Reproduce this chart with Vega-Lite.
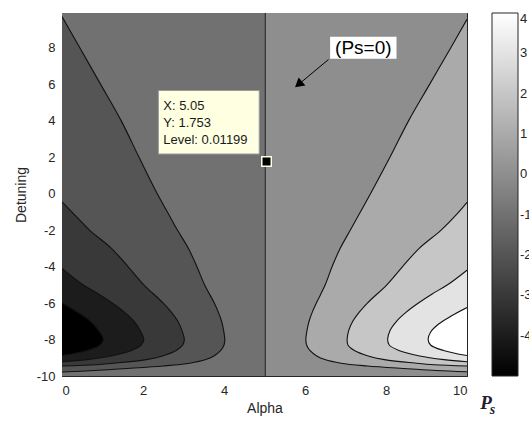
{
"$schema": "https://vega.github.io/schema/vega-lite/v6.json",
"width": 405, "height": 363,
"autosize": {"type": "none"},
"padding": {"left": 62, "top": 13, "right": 62, "bottom": 45},
"background": "white",
"config": {
  "font": "Liberation Sans",
  "view": {"stroke": null},
  "axis": {"grid": false, "domain": true, "domainColor": "#262626", "domainWidth": 1, "tickColor": "#262626", "tickSize": -5, "tickWidth": 1, "labelColor": "#262626", "labelFontSize": 13, "labelFont": "Liberation Sans", "titleColor": "#262626", "titleFontSize": 14, "titleFont": "Liberation Sans", "titleFontWeight": "normal", "zindex": 1},
  "legend": {"orient": "right", "offset": 24, "padding": 0, "gradientLength": 363, "gradientThickness": 26, "gradientStrokeColor": "#262626", "gradientStrokeWidth": 1, "labelFontSize": 13, "labelColor": "#262626", "labelFont": "Liberation Sans", "labelOffset": 4, "labelOverlap": false, "direction": "vertical"}
},
"datasets": {
  "bg": [{"a0": 0, "a1": 5.02, "d0": -10, "d1": 9.9, "lvl": -1}, {"a0": 5.02, "a1": 10, "d0": -10, "d1": 9.9, "lvl": 0}],
  "curves": [
    {"c":"m1","lvl":-2,"a":0,"d":-9.78},{"c":"m1","lvl":-2,"a":0.8,"d":-9.7},{"c":"m1","lvl":-2,"a":1.5,"d":-9.6},{"c":"m1","lvl":-2,"a":2.5,"d":-9.45},{"c":"m1","lvl":-2,"a":3.15,"d":-9.3},{"c":"m1","lvl":-2,"a":3.55,"d":-9.1},{"c":"m1","lvl":-2,"a":3.75,"d":-8.9},{"c":"m1","lvl":-2,"a":3.92,"d":-8.6},{"c":"m1","lvl":-2,"a":4.0,"d":-8.3},{"c":"m1","lvl":-2,"a":4.02,"d":-8.0},{"c":"m1","lvl":-2,"a":3.99,"d":-7.5},{"c":"m1","lvl":-2,"a":3.94,"d":-7.0},{"c":"m1","lvl":-2,"a":3.86,"d":-6.5},{"c":"m1","lvl":-2,"a":3.76,"d":-6.0},{"c":"m1","lvl":-2,"a":3.52,"d":-5.0},{"c":"m1","lvl":-2,"a":3.33,"d":-4.0},{"c":"m1","lvl":-2,"a":3.12,"d":-3.0},{"c":"m1","lvl":-2,"a":2.85,"d":-2.0},{"c":"m1","lvl":-2,"a":2.6,"d":-1.0},{"c":"m1","lvl":-2,"a":2.35,"d":0},{"c":"m1","lvl":-2,"a":1.9,"d":2},{"c":"m1","lvl":-2,"a":1.46,"d":4},{"c":"m1","lvl":-2,"a":0.95,"d":6},{"c":"m1","lvl":-2,"a":0.44,"d":8},{"c":"m1","lvl":-2,"a":0,"d":9.7},
    {"c":"m2","lvl":-3,"a":0,"d":-9.45},{"c":"m2","lvl":-3,"a":0.85,"d":-9.38},{"c":"m2","lvl":-3,"a":1.28,"d":-9.3},{"c":"m2","lvl":-3,"a":2.08,"d":-9.1},{"c":"m2","lvl":-3,"a":2.48,"d":-8.9},{"c":"m2","lvl":-3,"a":2.82,"d":-8.6},{"c":"m2","lvl":-3,"a":2.98,"d":-8.3},{"c":"m2","lvl":-3,"a":3.02,"d":-8.0},{"c":"m2","lvl":-3,"a":2.96,"d":-7.5},{"c":"m2","lvl":-3,"a":2.86,"d":-7.0},{"c":"m2","lvl":-3,"a":2.7,"d":-6.5},{"c":"m2","lvl":-3,"a":2.5,"d":-6.0},{"c":"m2","lvl":-3,"a":2.02,"d":-5.0},{"c":"m2","lvl":-3,"a":1.63,"d":-4.0},{"c":"m2","lvl":-3,"a":1.22,"d":-3.0},{"c":"m2","lvl":-3,"a":0.68,"d":-2.0},{"c":"m2","lvl":-3,"a":0.24,"d":-1.0},{"c":"m2","lvl":-3,"a":0,"d":-0.45},
    {"c":"m3","lvl":-4,"a":0,"d":-9.22},{"c":"m3","lvl":-4,"a":0.61,"d":-9.1},{"c":"m3","lvl":-4,"a":1.21,"d":-8.9},{"c":"m3","lvl":-4,"a":1.72,"d":-8.6},{"c":"m3","lvl":-4,"a":1.96,"d":-8.3},{"c":"m3","lvl":-4,"a":2.02,"d":-8.0},{"c":"m3","lvl":-4,"a":1.93,"d":-7.5},{"c":"m3","lvl":-4,"a":1.78,"d":-7.0},{"c":"m3","lvl":-4,"a":1.54,"d":-6.5},{"c":"m3","lvl":-4,"a":1.24,"d":-6.0},{"c":"m3","lvl":-4,"a":0.9,"d":-5.5},{"c":"m3","lvl":-4,"a":0.52,"d":-5.0},{"c":"m3","lvl":-4,"a":0,"d":-4.1},
    {"c":"m4","lvl":-5,"a":0,"d":-8.88},{"c":"m4","lvl":-5,"a":0.62,"d":-8.6},{"c":"m4","lvl":-5,"a":0.94,"d":-8.3},{"c":"m4","lvl":-5,"a":1.02,"d":-8.0},{"c":"m4","lvl":-5,"a":0.9,"d":-7.5},{"c":"m4","lvl":-5,"a":0.7,"d":-7.0},{"c":"m4","lvl":-5,"a":0.38,"d":-6.5},{"c":"m4","lvl":-5,"a":0,"d":-6.0},
    {"c":"p1","lvl":1,"a":10,"d":-9.77},{"c":"p1","lvl":1,"a":9.24,"d":-9.7},{"c":"p1","lvl":1,"a":8.54,"d":-9.6},{"c":"p1","lvl":1,"a":7.54,"d":-9.45},{"c":"p1","lvl":1,"a":6.89,"d":-9.3},{"c":"p1","lvl":1,"a":6.49,"d":-9.1},{"c":"p1","lvl":1,"a":6.29,"d":-8.9},{"c":"p1","lvl":1,"a":6.12,"d":-8.6},{"c":"p1","lvl":1,"a":6.04,"d":-8.3},{"c":"p1","lvl":1,"a":6.02,"d":-8.0},{"c":"p1","lvl":1,"a":6.05,"d":-7.5},{"c":"p1","lvl":1,"a":6.1,"d":-7.0},{"c":"p1","lvl":1,"a":6.18,"d":-6.5},{"c":"p1","lvl":1,"a":6.28,"d":-6.0},{"c":"p1","lvl":1,"a":6.5,"d":-5.0},{"c":"p1","lvl":1,"a":6.67,"d":-4.0},{"c":"p1","lvl":1,"a":6.87,"d":-3.0},{"c":"p1","lvl":1,"a":7.12,"d":-2.0},{"c":"p1","lvl":1,"a":7.37,"d":-1.0},{"c":"p1","lvl":1,"a":7.62,"d":0},{"c":"p1","lvl":1,"a":8.1,"d":2},{"c":"p1","lvl":1,"a":8.56,"d":4},{"c":"p1","lvl":1,"a":9.08,"d":6},{"c":"p1","lvl":1,"a":9.6,"d":8},{"c":"p1","lvl":1,"a":10,"d":9.55},
    {"c":"p2","lvl":2,"a":10,"d":-9.45},{"c":"p2","lvl":2,"a":9.19,"d":-9.38},{"c":"p2","lvl":2,"a":8.76,"d":-9.3},{"c":"p2","lvl":2,"a":7.96,"d":-9.1},{"c":"p2","lvl":2,"a":7.56,"d":-8.9},{"c":"p2","lvl":2,"a":7.22,"d":-8.6},{"c":"p2","lvl":2,"a":7.06,"d":-8.3},{"c":"p2","lvl":2,"a":7.04,"d":-8.0},{"c":"p2","lvl":2,"a":7.08,"d":-7.5},{"c":"p2","lvl":2,"a":7.18,"d":-7.0},{"c":"p2","lvl":2,"a":7.34,"d":-6.5},{"c":"p2","lvl":2,"a":7.54,"d":-6.0},{"c":"p2","lvl":2,"a":8.02,"d":-5.0},{"c":"p2","lvl":2,"a":8.41,"d":-4.0},{"c":"p2","lvl":2,"a":8.82,"d":-3.0},{"c":"p2","lvl":2,"a":9.36,"d":-2.0},{"c":"p2","lvl":2,"a":9.8,"d":-1.0},{"c":"p2","lvl":2,"a":10,"d":-0.48},
    {"c":"p3","lvl":3,"a":10,"d":-9.22},{"c":"p3","lvl":3,"a":9.43,"d":-9.1},{"c":"p3","lvl":3,"a":8.83,"d":-8.9},{"c":"p3","lvl":3,"a":8.32,"d":-8.6},{"c":"p3","lvl":3,"a":8.08,"d":-8.3},{"c":"p3","lvl":3,"a":8.04,"d":-8.0},{"c":"p3","lvl":3,"a":8.1,"d":-7.5},{"c":"p3","lvl":3,"a":8.26,"d":-7.0},{"c":"p3","lvl":3,"a":8.5,"d":-6.5},{"c":"p3","lvl":3,"a":8.8,"d":-6.0},{"c":"p3","lvl":3,"a":9.14,"d":-5.5},{"c":"p3","lvl":3,"a":9.52,"d":-5.0},{"c":"p3","lvl":3,"a":10,"d":-4.2},
    {"c":"p4","lvl":4,"a":10,"d":-8.88},{"c":"p4","lvl":4,"a":9.42,"d":-8.6},{"c":"p4","lvl":4,"a":9.1,"d":-8.3},{"c":"p4","lvl":4,"a":9.04,"d":-8.0},{"c":"p4","lvl":4,"a":9.1,"d":-7.6},{"c":"p4","lvl":4,"a":9.3,"d":-7.15},{"c":"p4","lvl":4,"a":9.62,"d":-6.7},{"c":"p4","lvl":4,"a":10,"d":-6.25}
  ],
  "arrow": [{"x1": 6.58, "y1": 7.35, "x2": 5.86, "y2": 6.02}],
  "arrowhead": [{"a": 5.84, "d": 5.99}],
  "psbox": [{"a0": 6.62, "a1": 8.26, "d0": 7.39, "d1": 8.6, "a": 7.44, "d": 7.98, "t": "(Ps=0)"}],
  "tipbox": [{"a0": 2.38, "a1": 4.87, "d0": 2.17, "d1": 5.65}],
  "tiptext": [{"a": 2.5, "d": 4.81, "t": "X: 5.05"}, {"a": 2.5, "d": 3.87, "t": "Y: 1.753"}, {"a": 2.5, "d": 2.94, "t": "Level: 0.01199"}],
  "marker": [{"a": 5.05, "d": 1.753}],
  "ps": [{"a": 10.47, "d": -11.5, "t": "P"}, {"a": 10.63, "d": -11.85, "t": "s"}]
},
"layer": [
  {"layer": [
    {"data": {"name": "bg"}, "mark": {"type": "rect"},
     "encoding": {
       "x": {"field": "a0", "type": "quantitative", "scale": {"domain": [0, 10], "nice": false, "zero": false}, "axis": {"orient": "bottom", "values": [0, 2, 4, 6, 8, 10], "title": "Alpha", "labelPadding": 13, "titlePadding": 4, "labelExpr": "'' + datum.value"}},
       "x2": {"field": "a1"},
       "y": {"field": "d0", "type": "quantitative", "scale": {"domain": [-10, 9.9], "nice": false, "zero": false}, "axis": {"orient": "left", "values": [-10, -8, -6, -4, -2, 0, 2, 4, 6, 8], "title": "Detuning", "labelPadding": 12, "titlePadding": 8, "labelExpr": "'' + datum.value"}},
       "y2": {"field": "d1"},
       "color": {"field": "lvl", "type": "quantitative", "scale": {"domain": [-5, 4], "range": ["#000000", "#ffffff"], "interpolate": "rgb"}, "legend": {"values": [-4, -3, -2, -1, 0, 1, 2, 3, 4], "title": null, "labelExpr": "'' + datum.value"}}
     }},
    {"data": {"name": "curves"}, "transform": [{"filter": "datum.c == 'm1'"}], "mark": {"type": "area", "orient": "horizontal", "clip": true, "interpolate": "catmull-rom"},
     "encoding": {"y": {"field": "d", "type": "quantitative"}, "x": {"field": "a", "type": "quantitative", "stack": null}, "x2": {"datum": 0}, "color": {"field": "lvl", "type": "quantitative", "scale": {"domain": [-5, 4], "range": ["#000000", "#ffffff"], "interpolate": "rgb"}}}},
    {"data": {"name": "curves"}, "transform": [{"filter": "datum.c == 'm2'"}], "mark": {"type": "area", "orient": "horizontal", "clip": true, "interpolate": "catmull-rom"},
     "encoding": {"y": {"field": "d", "type": "quantitative"}, "x": {"field": "a", "type": "quantitative", "stack": null}, "x2": {"datum": 0}, "color": {"field": "lvl", "type": "quantitative", "scale": {"domain": [-5, 4], "range": ["#000000", "#ffffff"], "interpolate": "rgb"}}}},
    {"data": {"name": "curves"}, "transform": [{"filter": "datum.c == 'm3'"}], "mark": {"type": "area", "orient": "horizontal", "clip": true, "interpolate": "catmull-rom"},
     "encoding": {"y": {"field": "d", "type": "quantitative"}, "x": {"field": "a", "type": "quantitative", "stack": null}, "x2": {"datum": 0}, "color": {"field": "lvl", "type": "quantitative", "scale": {"domain": [-5, 4], "range": ["#000000", "#ffffff"], "interpolate": "rgb"}}}},
    {"data": {"name": "curves"}, "transform": [{"filter": "datum.c == 'm4'"}], "mark": {"type": "area", "orient": "horizontal", "clip": true, "interpolate": "catmull-rom"},
     "encoding": {"y": {"field": "d", "type": "quantitative"}, "x": {"field": "a", "type": "quantitative", "stack": null}, "x2": {"datum": 0}, "color": {"field": "lvl", "type": "quantitative", "scale": {"domain": [-5, 4], "range": ["#000000", "#ffffff"], "interpolate": "rgb"}}}},
    {"data": {"name": "curves"}, "transform": [{"filter": "datum.c == 'p1'"}], "mark": {"type": "area", "orient": "horizontal", "clip": true, "interpolate": "catmull-rom"},
     "encoding": {"y": {"field": "d", "type": "quantitative"}, "x": {"field": "a", "type": "quantitative", "stack": null}, "x2": {"datum": 10}, "color": {"field": "lvl", "type": "quantitative", "scale": {"domain": [-5, 4], "range": ["#000000", "#ffffff"], "interpolate": "rgb"}}}},
    {"data": {"name": "curves"}, "transform": [{"filter": "datum.c == 'p2'"}], "mark": {"type": "area", "orient": "horizontal", "clip": true, "interpolate": "catmull-rom"},
     "encoding": {"y": {"field": "d", "type": "quantitative"}, "x": {"field": "a", "type": "quantitative", "stack": null}, "x2": {"datum": 10}, "color": {"field": "lvl", "type": "quantitative", "scale": {"domain": [-5, 4], "range": ["#000000", "#ffffff"], "interpolate": "rgb"}}}},
    {"data": {"name": "curves"}, "transform": [{"filter": "datum.c == 'p3'"}], "mark": {"type": "area", "orient": "horizontal", "clip": true, "interpolate": "catmull-rom"},
     "encoding": {"y": {"field": "d", "type": "quantitative"}, "x": {"field": "a", "type": "quantitative", "stack": null}, "x2": {"datum": 10}, "color": {"field": "lvl", "type": "quantitative", "scale": {"domain": [-5, 4], "range": ["#000000", "#ffffff"], "interpolate": "rgb"}}}},
    {"data": {"name": "curves"}, "transform": [{"filter": "datum.c == 'p4'"}], "mark": {"type": "area", "orient": "horizontal", "clip": true, "interpolate": "catmull-rom"},
     "encoding": {"y": {"field": "d", "type": "quantitative"}, "x": {"field": "a", "type": "quantitative", "stack": null}, "x2": {"datum": 10}, "color": {"field": "lvl", "type": "quantitative", "scale": {"domain": [-5, 4], "range": ["#000000", "#ffffff"], "interpolate": "rgb"}}}},
    {"data": {"name": "curves"}, "mark": {"type": "line", "clip": true, "strokeWidth": 1.1, "color": "#111111", "interpolate": "catmull-rom"},
     "encoding": {"x": {"field": "a", "type": "quantitative"}, "y": {"field": "d", "type": "quantitative"}, "detail": {"field": "c"}, "order": {"field": "d", "type": "quantitative"}}},
    {"data": {"name": "marker"}, "mark": {"type": "rule", "color": "#262626", "strokeWidth": 1.1}, "encoding": {"x": {"datum": 5.02}}},
    {"data": {"name": "arrow"}, "mark": {"type": "rule", "color": "#000000", "strokeWidth": 1},
     "encoding": {"x": {"field": "x1", "type": "quantitative"}, "y": {"field": "y1", "type": "quantitative"}, "x2": {"field": "x2"}, "y2": {"field": "y2"}}},
    {"data": {"name": "arrowhead"}, "mark": {"type": "point", "shape": "triangle-up", "filled": true, "color": "#000000", "size": 110, "angle": 230, "opacity": 1},
     "encoding": {"x": {"field": "a", "type": "quantitative"}, "y": {"field": "d", "type": "quantitative"}}},
    {"data": {"name": "psbox"}, "mark": {"type": "rect", "fill": "#ffffff"},
     "encoding": {"x": {"field": "a0", "type": "quantitative"}, "x2": {"field": "a1"}, "y": {"field": "d0", "type": "quantitative"}, "y2": {"field": "d1"}}},
    {"data": {"name": "psbox"}, "mark": {"type": "text", "fontSize": 19, "font": "Liberation Sans", "color": "#000000", "align": "center", "baseline": "middle"},
     "encoding": {"x": {"field": "a", "type": "quantitative"}, "y": {"field": "d", "type": "quantitative"}, "text": {"field": "t"}}},
    {"data": {"name": "tipbox"}, "mark": {"type": "rect", "fill": "#ffffe1", "stroke": "#9a9a9a", "strokeWidth": 1},
     "encoding": {"x": {"field": "a0", "type": "quantitative"}, "x2": {"field": "a1"}, "y": {"field": "d0", "type": "quantitative"}, "y2": {"field": "d1"}}},
    {"data": {"name": "tiptext"}, "mark": {"type": "text", "fontSize": 13, "font": "Liberation Sans", "color": "#1a1a1a", "align": "left", "baseline": "middle"},
     "encoding": {"x": {"field": "a", "type": "quantitative"}, "y": {"field": "d", "type": "quantitative"}, "text": {"field": "t"}}},
    {"data": {"name": "marker"}, "mark": {"type": "point", "shape": "square", "filled": true, "fill": "#000000", "stroke": "#ffffe1", "strokeWidth": 1.5, "size": 90, "opacity": 1},
     "encoding": {"x": {"field": "a", "type": "quantitative"}, "y": {"field": "d", "type": "quantitative"}}},
    {"data": {"name": "ps"}, "transform": [{"filter": "datum.t == 'P'"}], "mark": {"type": "text", "fontSize": 19, "font": "Liberation Serif", "fontStyle": "italic", "fontWeight": "bold", "color": "#1f1f33", "align": "center", "baseline": "middle", "clip": false},
     "encoding": {"x": {"field": "a", "type": "quantitative"}, "y": {"field": "d", "type": "quantitative"}, "text": {"field": "t"}}},
    {"data": {"name": "ps"}, "transform": [{"filter": "datum.t == 's'"}], "mark": {"type": "text", "fontSize": 14, "font": "Liberation Serif", "fontStyle": "italic", "fontWeight": "bold", "color": "#1f1f33", "align": "center", "baseline": "middle", "clip": false},
     "encoding": {"x": {"field": "a", "type": "quantitative"}, "y": {"field": "d", "type": "quantitative"}, "text": {"field": "t"}}}
  ]},
  {"data": {"name": "bg"}, "mark": {"type": "rect", "opacity": 0},
   "encoding": {
     "x": {"field": "a0", "type": "quantitative", "axis": {"orient": "top", "labels": false, "title": null, "values": [0, 2, 4, 6, 8, 10]}},
     "x2": {"field": "a1"},
     "y": {"field": "d0", "type": "quantitative", "axis": {"orient": "right", "labels": false, "title": null, "values": [-10, -8, -6, -4, -2, 0, 2, 4, 6, 8]}},
     "y2": {"field": "d1"}
   }}
],
"resolve": {"axis": {"x": "independent", "y": "independent"}}
}
